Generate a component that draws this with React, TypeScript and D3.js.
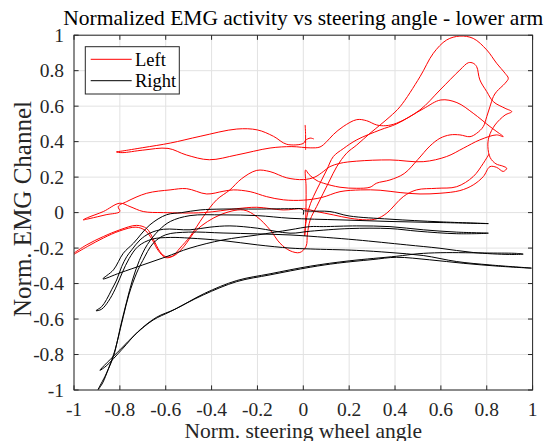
import React from 'react';
import * as d3 from 'd3';

type Pt = [number, number];

// Axis ticks
const xTicks = [-1, -0.8, -0.6, -0.4, -0.2, 0, 0.2, 0.4, 0.6, 0.8, 1];
const yTicks = [-1, -0.8, -0.6, -0.4, -0.2, 0, 0.2, 0.4, 0.6, 0.8, 1];
const xTickLabels = ['-1', '-0.8', '-0.6', '-0.4', '-0.2', '0', '0.2', '0.4', '0.6', '0.8', '1'];
const yTickLabels = ['-1', '-0.8', '-0.6', '-0.4', '-0.2', '0', '0.2', '0.4', '0.6', '0.8', '1'];

// Left arm: normalized steering angle vs normalized EMG (trace A)
const leftTraceA: Pt[] = [
  [-1.0, -0.228], [-0.945, -0.182], [-0.872, -0.135], [-0.8, -0.097], [-0.727, -0.072], [-0.683, -0.09],
  [-0.654, -0.15], [-0.625, -0.22], [-0.6, -0.248], [-0.57, -0.245], [-0.538, -0.2], [-0.494, -0.135],
  [-0.436, -0.023], [-0.378, 0.072], [-0.32, 0.128], [-0.27, 0.19], [-0.203, 0.238], [-0.145, 0.231],
  [-0.072, 0.196], [0.0, 0.186], [0.05, 0.2], [0.087, 0.231], [0.116, 0.259], [0.16, 0.278], [0.233, 0.29],
  [0.378, 0.297], [0.523, 0.287], [0.625, 0.316], [0.698, 0.363], [0.77, 0.41], [0.843, 0.438], [0.872, 0.428],
  [0.84, 0.46], [0.814, 0.485], [0.741, 0.56], [0.67, 0.62], [0.6, 0.635], [0.523, 0.585], [0.407, 0.5],
  [0.335, 0.466], [0.233, 0.41], [0.174, 0.36], [0.131, 0.316], [0.102, 0.24], [0.073, 0.166], [0.044, 0.09],
  [0.022, 0.015], [0.01, -0.07], [0.006, -0.132], [0.01, -0.05], [0.012, 0.05], [0.012, 0.15], [0.01, 0.24],
  [0.025, 0.215], [0.06, 0.18], [0.087, 0.166], [0.16, 0.143], [0.233, 0.137], [0.291, 0.143], [0.32, 0.166],
  [0.378, 0.184], [0.44, 0.22], [0.5, 0.3], [0.552, 0.375], [0.596, 0.419], [0.64, 0.438], [0.683, 0.438],
  [0.727, 0.428], [0.756, 0.447], [0.785, 0.485], [0.8, 0.541], [0.814, 0.597], [0.829, 0.654], [0.843, 0.682],
  [0.88, 0.729], [0.894, 0.757], [0.88, 0.785], [0.843, 0.842], [0.8, 0.917], [0.741, 0.982], [0.683, 0.995],
  [0.625, 0.973], [0.567, 0.898], [0.509, 0.766], [0.422, 0.597], [0.378, 0.541], [0.335, 0.494], [0.291, 0.447],
  [0.233, 0.381], [0.189, 0.335], [0.146, 0.259], [0.116, 0.184], [0.087, 0.109], [0.058, 0.034], [0.03, -0.041],
  [0.018, -0.12], [0.012, -0.19], [-0.015, -0.225], [-0.058, -0.215], [-0.102, -0.172], [-0.145, -0.097],
  [-0.203, -0.023], [-0.262, 0.015], [-0.363, -0.013], [-0.465, -0.097], [-0.52, -0.19], [-0.56, -0.24],
  [-0.6, -0.254], [-0.632, -0.215], [-0.66, -0.15], [-0.69, -0.1], [-0.73, -0.082], [-0.8, -0.103],
  [-0.87, -0.142], [-0.94, -0.19], [-1.0, -0.235],
];

// Left arm (trace B)
const leftTraceB: Pt[] = [
  [0.046, 0.415], [0.03, 0.42], [0.01, 0.408], [0.0, 0.39], [-0.072, 0.385], [-0.13, 0.43], [-0.2, 0.466],
  [-0.29, 0.471], [-0.45, 0.43], [-0.58, 0.392], [-0.7, 0.366], [-0.79, 0.347], [-0.815, 0.342], [-0.79, 0.338],
  [-0.7, 0.352], [-0.59, 0.362], [-0.51, 0.325], [-0.41, 0.298], [-0.29, 0.325], [-0.145, 0.364], [-0.05, 0.372],
  [0.03, 0.365], [0.073, 0.37], [0.102, 0.4], [0.131, 0.44], [0.174, 0.485], [0.233, 0.524], [0.276, 0.518],
  [0.32, 0.494], [0.36, 0.49], [0.407, 0.504], [0.509, 0.579], [0.596, 0.691], [0.683, 0.804], [0.72, 0.845],
  [0.741, 0.842], [0.756, 0.823], [0.77, 0.748], [0.8, 0.682], [0.829, 0.625], [0.88, 0.588], [0.909, 0.569],
  [0.88, 0.55], [0.836, 0.494], [0.81, 0.428], [0.805, 0.372], [0.815, 0.31], [0.84, 0.275], [0.87, 0.262],
  [0.887, 0.25], [0.872, 0.232], [0.843, 0.255], [0.814, 0.259], [0.785, 0.203], [0.741, 0.156], [0.683, 0.124],
  [0.596, 0.109], [0.509, 0.105], [0.422, 0.113], [0.335, 0.126], [0.25, 0.128], [0.16, 0.118], [0.08, 0.085],
  [0.0, 0.07], [-0.087, 0.072], [-0.16, 0.09], [-0.232, 0.118], [-0.305, 0.128], [-0.35, 0.12], [-0.421, 0.105],
  [-0.509, 0.135], [-0.581, 0.128], [-0.683, 0.109], [-0.77, 0.062], [-0.807, 0.034], [-0.8, 0.006],
  [-0.86, -0.012], [-0.93, -0.033], [-0.96, -0.041], [-0.94, -0.028], [-0.872, 0.006], [-0.8, 0.053],
  [-0.756, 0.034], [-0.698, 0.006], [-0.61, 0.0], [-0.436, 0.0], [-0.29, 0.022], [-0.203, 0.03], [-0.087, 0.015],
  [0.0, 0.022], [0.058, 0.006], [0.131, -0.013], [0.204, -0.032], [0.276, -0.041], [0.32, -0.035], [0.364, -0.003],
  [0.436, 0.09], [0.494, 0.128], [0.582, 0.137], [0.669, 0.146], [0.741, 0.203], [0.785, 0.278], [0.81, 0.33],
];

// Left arm: short jitter near the centre position
const leftSpike: Pt[] = [[0.008, 0.494], [0.01, 0.44], [0.01, 0.39], [0.01, 0.353]];

// Right arm trace
const rightTrace: Pt[] = [
  [0.0, -0.012], [0.0, 0.014], [-0.012, 0.022], [-0.05, 0.022], [-0.2, 0.02], [-0.35, 0.02], [-0.45, 0.015],
  [-0.53, 0.0], [-0.596, -0.012], [-0.669, -0.069], [-0.741, -0.173], [-0.785, -0.229], [-0.828, -0.323],
  [-0.874, -0.374], [-0.8, -0.34], [-0.7, -0.295], [-0.6, -0.25], [-0.494, -0.2], [-0.35, -0.154],
  [-0.2, -0.126], [-0.058, -0.097], [0.03, -0.079], [0.087, -0.079], [0.233, -0.075], [0.378, -0.079],
  [0.523, -0.097], [0.669, -0.11], [0.807, -0.116], [0.669, -0.119], [0.5, -0.105], [0.378, -0.09],
  [0.2, -0.09], [0.03, -0.105], [-0.058, -0.116], [-0.2, -0.088], [-0.32, -0.075], [-0.407, -0.082],
  [-0.494, -0.097], [-0.61, -0.094], [-0.669, -0.116], [-0.712, -0.154], [-0.748, -0.21], [-0.77, -0.248],
  [-0.792, -0.304], [-0.814, -0.38], [-0.836, -0.435], [-0.858, -0.49], [-0.879, -0.53], [-0.904, -0.553],
  [-0.88, -0.545], [-0.85, -0.5], [-0.82, -0.43], [-0.79, -0.34], [-0.76, -0.26], [-0.72, -0.19],
  [-0.66, -0.15], [-0.58, -0.14], [-0.494, -0.144], [-0.35, -0.158], [-0.2, -0.182], [-0.058, -0.2],
  [0.03, -0.205], [0.233, -0.213], [0.378, -0.225], [0.523, -0.242], [0.669, -0.276], [0.814, -0.295],
  [0.995, -0.313], [0.85, -0.302], [0.7, -0.286], [0.55, -0.266], [0.407, -0.252], [0.3, -0.265],
  [0.15, -0.285], [0.03, -0.308], [-0.145, -0.351], [-0.29, -0.389], [-0.436, -0.464], [-0.58, -0.558],
  [-0.654, -0.605], [-0.727, -0.68], [-0.8, -0.774], [-0.887, -0.889], [-0.86, -0.865], [-0.79, -0.77],
  [-0.72, -0.67], [-0.64, -0.59], [-0.56, -0.545], [-0.43, -0.455], [-0.29, -0.383], [-0.145, -0.345],
  [0.03, -0.302], [0.2, -0.272], [0.407, -0.246], [0.5, -0.232], [0.6, -0.226], [0.814, -0.228],
  [0.93, -0.23], [0.959, -0.234], [0.9, -0.236], [0.741, -0.225], [0.596, -0.201], [0.451, -0.182],
  [0.233, -0.154], [0.1, -0.14], [-0.058, -0.126], [-0.2, -0.12], [-0.35, -0.115], [-0.5, -0.11],
  [-0.6, -0.125], [-0.654, -0.172], [-0.7, -0.27], [-0.727, -0.341], [-0.76, -0.46], [-0.785, -0.586],
  [-0.81, -0.72], [-0.828, -0.811], [-0.86, -0.91], [-0.895, -0.998], [-0.875, -0.96], [-0.85, -0.88],
  [-0.82, -0.77], [-0.795, -0.63], [-0.77, -0.5], [-0.745, -0.38], [-0.715, -0.27], [-0.68, -0.18],
  [-0.63, -0.1], [-0.58, -0.05], [-0.494, -0.017], [-0.35, -0.013], [-0.2, -0.017], [-0.058, -0.032],
  [0.16, -0.041], [0.378, -0.05], [0.596, -0.056], [0.807, -0.062], [0.596, -0.052], [0.378, -0.037],
  [0.2, -0.019], [0.116, 0.006], [0.03, 0.008], [0.005, 0.01],
];

const W = 548;
const H = 441;
const plot = { left: 74, right: 532.6, top: 35.2, bottom: 390 };
const axisColor = '#262626';
const gridColor = '#e2e2e2';
const font = '"Liberation Serif", "Times New Roman", serif';

export default function App() {
  const x = d3.scaleLinear().domain([-1, 1]).range([plot.left, plot.right]);
  const y = d3.scaleLinear().domain([-1, 1]).range([plot.bottom, plot.top]);
  const line = d3
    .line<Pt>()
    .x((d) => x(d[0]))
    .y((d) => y(d[1]))
    .curve(d3.curveCatmullRom.alpha(0.5));

  const tickLen = 4.6;
  const pw = plot.right - plot.left;
  const ph = plot.bottom - plot.top;

  return (
    <svg
      width={W}
      height={H}
      viewBox={`0 0 ${W} ${H}`}
      style={{ position: 'absolute', left: 0, top: 0, background: '#fff' }}
    >
      <defs>
        <clipPath id="plot-clip">
          <rect x={plot.left} y={plot.top} width={pw} height={ph} />
        </clipPath>
      </defs>
      <rect x={0} y={0} width={W} height={H} fill="#fff" />

      {/* grid */}
      <g stroke={gridColor} strokeWidth={1}>
        {xTicks.map((t) => (
          <line key={`gx${t}`} x1={x(t)} x2={x(t)} y1={plot.top} y2={plot.bottom} />
        ))}
        {yTicks.map((t) => (
          <line key={`gy${t}`} x1={plot.left} x2={plot.right} y1={y(t)} y2={y(t)} />
        ))}
      </g>

      {/* traces */}
      <g clipPath="url(#plot-clip)" fill="none" strokeWidth={1} strokeLinejoin="round">
        <path d={line(leftTraceA) || ''} stroke="#ff0000" />
        <path d={line(leftTraceB) || ''} stroke="#ff0000" />
        <path d={line(leftSpike) || ''} stroke="#ff0000" />
        <path d={line(rightTrace) || ''} stroke="#000000" />
      </g>

      {/* axes box and ticks */}
      <g stroke={axisColor} strokeWidth={1} fill="none">
        <rect x={plot.left} y={plot.top} width={pw} height={ph} />
        {xTicks.map((t) => (
          <g key={`tx${t}`}>
            <line x1={x(t)} x2={x(t)} y1={plot.bottom} y2={plot.bottom - tickLen} />
            <line x1={x(t)} x2={x(t)} y1={plot.top} y2={plot.top + tickLen} />
          </g>
        ))}
        {yTicks.map((t) => (
          <g key={`ty${t}`}>
            <line x1={plot.left} x2={plot.left + tickLen} y1={y(t)} y2={y(t)} />
            <line x1={plot.right} x2={plot.right - tickLen} y1={y(t)} y2={y(t)} />
          </g>
        ))}
      </g>

      {/* tick labels */}
      <g fill={axisColor} fontFamily={font} fontSize={19.5}>
        {xTicks.map((t, i) => (
          <text key={`lx${t}`} x={x(t)} y={plot.bottom + 26} textAnchor="middle">
            {xTickLabels[i]}
          </text>
        ))}
        {yTicks.map((t, i) => (
          <text key={`ly${t}`} x={plot.left - 10} y={y(t) + 6.5} textAnchor="end">
            {yTickLabels[i]}
          </text>
        ))}
      </g>

      {/* title and axis labels */}
      <text
        x={(plot.left + plot.right) / 2}
        y={25}
        textAnchor="middle"
        fontFamily={font}
        fontSize={21.5}
        fill="#000"
      >
        Normalized EMG activity vs steering angle - lower arm
      </text>
      <text
        x={(plot.left + plot.right) / 2}
        y={437.5}
        textAnchor="middle"
        fontFamily={font}
        fontSize={21.5}
        fill={axisColor}
      >
        Norm. steering wheel angle
      </text>
      <text
        transform={`translate(31, 209) rotate(-90)`}
        textAnchor="middle"
        fontFamily={font}
        fontSize={25}
        fill={axisColor}
      >
        Norm. EMG Channel
      </text>

      {/* legend */}
      <g>
        <rect x={85.3} y={46.7} width={94} height={47.3} fill="#fff" stroke={axisColor} strokeWidth={1} />
        <line x1={90.7} x2={131.7} y1={59.3} y2={59.3} stroke="#ff0000" strokeWidth={1} />
        <line x1={90.7} x2={131.7} y1={80.7} y2={80.7} stroke="#000000" strokeWidth={1} />
        <text x={135} y={65.5} fontFamily={font} fontSize={18.5} fill="#000">
          Left
        </text>
        <text x={135} y={87} fontFamily={font} fontSize={18.5} fill="#000">
          Right
        </text>
      </g>
    </svg>
  );
}
